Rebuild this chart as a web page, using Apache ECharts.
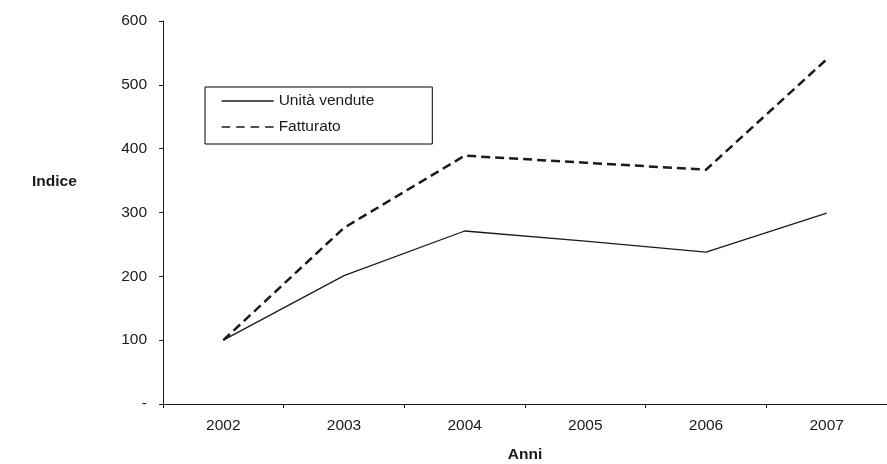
<!DOCTYPE html>
<html>
<head>
<meta charset="utf-8">
<script src="https://cdn.jsdelivr.net/npm/echarts@6/dist/echarts.min.js"></script>
<style>
  html, body { margin: 0; padding: 0; background: #fff; }
  #chart { width: 887px; height: 464px; }
</style>
</head>
<body>
<div id="chart"></div>
<script>
// Anni sull'asse orizzontale
const anni = ['2002', '2003', '2004', '2005', '2006', '2007'];
// Indici (2002 = 100)
const unitaVendute = [100, 201, 271, 255, 238, 299];
const fatturato = [100, 276, 389, 378, 367, 540];
// Etichette dell'asse verticale
const etichetteIndice = ['-', '100', '200', '300', '400', '500', '600'];

const FONT = "'Liberation Sans', Arial, sans-serif";
const INK = '#1a1a1a';

const chart = echarts.init(document.getElementById('chart'), null, { renderer: 'canvas' });

chart.setOption({
  backgroundColor: '#fff',
  animation: false,
  textStyle: { fontFamily: FONT, color: INK },
  grid: { left: 163, top: 21, width: 724, height: 383, containLabel: false, outerBoundsMode: 'none' },
  legend: {
    orient: 'vertical',
    left: 205,
    top: 87,
    padding: [6, 58, 9, 16],
    itemGap: 10,
    itemWidth: 52,
    itemHeight: 14,
    borderColor: '#000',
    borderWidth: 1,
    backgroundColor: '#fff',
    textStyle: { fontFamily: FONT, fontSize: 15.5, color: INK },
    // solo il tratto della linea, senza simbolo
    itemStyle: { opacity: 0 },
    data: [
      { name: 'Unità vendute', itemStyle: { opacity: 0 }, lineStyle: { width: 1.3, color: INK, type: 'solid' } },
      { name: 'Fatturato', itemStyle: { opacity: 0 }, lineStyle: { width: 1.3, color: INK, type: [8.5, 6] } }
    ]
  },
  graphic: [
    {
      type: 'text',
      left: 32,
      top: 174,
      style: { text: 'Indice', font: 'bold 15.5px ' + FONT, fill: INK }
    }
  ],
  xAxis: {
    type: 'category',
    data: anni,
    boundaryGap: true,
    name: 'Anni',
    nameLocation: 'middle',
    nameGap: 43,
    nameTextStyle: { fontFamily: FONT, fontSize: 15.5, fontWeight: 'bold', color: INK },
    axisLine: { show: true, lineStyle: { color: INK, width: 1 } },
    axisTick: { show: true, length: 4, alignWithLabel: false, lineStyle: { color: INK } },
    axisLabel: { fontFamily: FONT, fontSize: 15.5, color: INK, margin: 14 },
    splitLine: { show: false }
  },
  yAxis: {
    type: 'value',
    min: 0,
    max: 600,
    interval: 100,
    axisLine: { show: true, lineStyle: { color: INK, width: 1 } },
    axisTick: { show: true, length: 4, lineStyle: { color: INK } },
    axisLabel: {
      fontFamily: FONT,
      fontSize: 15.5,
      color: INK,
      margin: 16,
      formatter: function (v) { return etichetteIndice[Math.round(v / 100)]; }
    },
    splitLine: { show: false }
  },
  series: [
    {
      name: 'Unità vendute',
      type: 'line',
      data: unitaVendute,
      symbol: 'none',
      showSymbol: false,
      lineStyle: { color: INK, width: 1.3, type: 'solid' },
      itemStyle: { color: INK }
    },
    {
      name: 'Fatturato',
      type: 'line',
      data: fatturato,
      symbol: 'none',
      showSymbol: false,
      lineStyle: { color: INK, width: 2.5, type: [9, 5] },
      itemStyle: { color: INK }
    }
  ]
});
</script>
</body>
</html>
